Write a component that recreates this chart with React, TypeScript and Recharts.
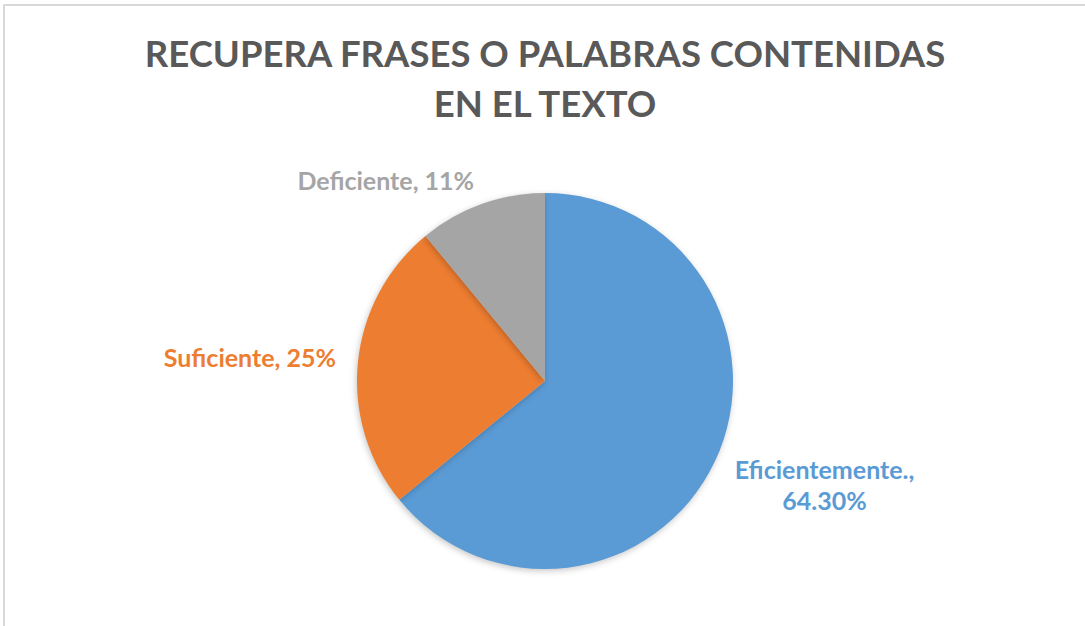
import { Cell, Pie, PieChart } from 'recharts';

const TITLE_LINES = ['RECUPERA FRASES O PALABRAS CONTENIDAS', 'EN EL TEXTO'];
const categories = ['Eficientemente.', 'Suficiente', 'Deficiente'];
const values = [64.3, 25, 11];
const valueLabels = ['64.30%', '25%', '11%'];
const colors = ['#5B9BD5', '#ED7D31', '#A5A5A5'];

const FONT = 'Lato, "Open Sans", sans-serif';
const LABEL_SIZE = 25;
const RADIAN = Math.PI / 180;

const data = categories.map((name, i) => ({ name, value: values[i], text: valueLabels[i] }));

function measure(text: string, size: number) {
    const ctx = document.createElement('canvas').getContext('2d');
    if (!ctx) return text.length * size * 0.55;
    ctx.font = `bold ${size}px ${FONT}`;
    return ctx.measureText(text).width;
}

function renderLabel(props: any) {
    const { cx, cy, midAngle, outerRadius, index } = props;
    const r = outerRadius + 22;
    const x = cx + r * Math.cos(-midAngle * RADIAN);
    const y = cy + r * Math.sin(-midAngle * RADIAN);
    const right = x > cx;
    const fill = colors[index];
    const common = { fill, fontFamily: FONT, fontSize: LABEL_SIZE, fontWeight: 700, dominantBaseline: 'central' as const };

    // the big slice label wraps onto two centred lines
    if (index === 0) {
        const first = `${categories[index]},`;
        const mid = x + measure(first, LABEL_SIZE) / 2;
        return (
            <text {...common} textAnchor="middle">
                <tspan x={mid} y={y - 2}>{first}</tspan>
                <tspan x={mid} y={y + 29}>{valueLabels[index]}</tspan>
            </text>
        );
    }
    return (
        <text {...common} x={x} y={y - 3} textAnchor={right ? 'start' : 'end'}>
            {`${categories[index]}, ${valueLabels[index]}`}
        </text>
    );
}

export default function App() {
    return (
        <div style={{ position: 'fixed', left: 0, top: 0, width: 1085, height: 626, overflow: 'hidden', background: '#fff' }}>
            <style>{`.recharts-pie-sector path { filter: drop-shadow(-1px 2px 3px rgba(0,0,0,0.22)); }`}</style>
            <div
                style={{
                    position: 'absolute',
                    left: 3,
                    top: 4,
                    width: 1120,
                    height: 660,
                    border: '2px solid #d9d9d9',
                }}
            />
            <div
                style={{
                    position: 'absolute',
                    left: 0,
                    top: 28,
                    width: 1090,
                    textAlign: 'center',
                    fontFamily: FONT,
                    fontWeight: 700,
                    fontSize: 36.5,
                    lineHeight: '50px',
                    color: '#595959',
                }}
            >
                {TITLE_LINES.map((t) => (
                    <div key={t}>{t}</div>
                ))}
            </div>
            <div style={{ position: 'absolute', left: 0, top: 0 }}>
                <PieChart width={1085} height={626} margin={{ top: 0, right: 0, bottom: 0, left: 0 }}>
                    <Pie
                        data={data}
                        dataKey="value"
                        nameKey="name"
                        cx={545}
                        cy={381}
                        outerRadius={188}
                        startAngle={90}
                        endAngle={-270}
                        stroke="none"
                        label={renderLabel}
                        labelLine={false}
                        isAnimationActive={false}
                    >
                        {data.map((d, i) => (
                            <Cell key={d.name} fill={colors[i]} />
                        ))}
                    </Pie>
                </PieChart>
            </div>
        </div>
    );
}
